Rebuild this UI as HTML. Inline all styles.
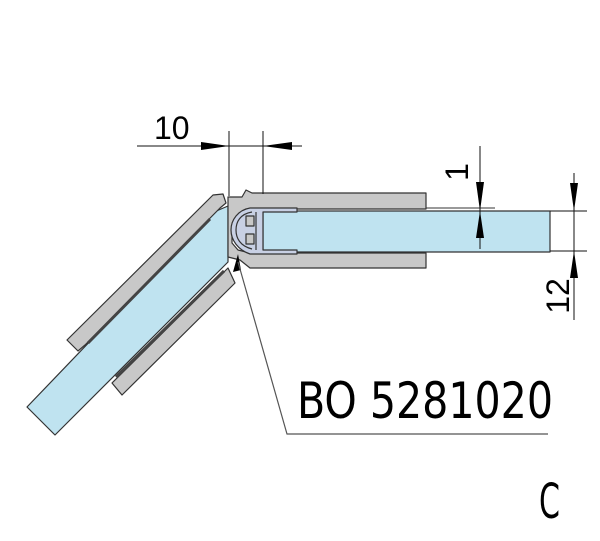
<!DOCTYPE html>
<html><head><style>html,body{margin:0;padding:0;background:#fff}svg{display:block}</style></head>
<body>
<svg width="600" height="541" viewBox="0 0 600 541" xmlns="http://www.w3.org/2000/svg">
<g stroke="#333" stroke-width="1.2" stroke-linejoin="round">
<!-- angled glass -->
<polygon points="27,407 55,435 228,262 228,206 214,212" fill="#bfe3f0"/>
<!-- upper angled clamp -->
<polygon points="67,340 78,351 85,345 220,208 226,203 223,194 213,195" fill="#c8c8c8"/>
<line x1="88" y1="343" x2="210" y2="219" stroke="#444" stroke-width="3"/>
<!-- lower angled clamp -->
<polygon points="112,383 122,395 235,283 228,268" fill="#c8c8c8"/>
<line x1="116" y1="377" x2="224" y2="271" stroke="#444" stroke-width="3"/>
<!-- hinge body -->
<polygon points="228,197 242,197 246,190 252,193 426,193 426,209 250,209 240,216 232,225 232,243 238,250 250,253 426,253 426,268 290,268 272,268 250,268 240,260 228,257" fill="#c8c8c8"/>
<!-- horizontal glass -->
<rect x="263" y="211" width="287" height="41" fill="#bfe3f0"/>
<line x1="426" y1="208" x2="495" y2="208" stroke-width="1"/>
<!-- seal -->
<path d="M266,208 L297,208 L297,212 L263,212 L263,250 L297,250 L297,254 L250,254 C238,250 231,240 231,230 C231,220 238,210 250,208 Z" fill="#c8d0e4"/>
<path d="M252,212 C240,214 236,222 236,230 C236,238 240,246 252,249" fill="none"/>
<rect x="246" y="216" width="8" height="10" fill="#c8c8c8"/>
<rect x="246" y="234" width="8" height="10" fill="#c8c8c8"/>
<line x1="256" y1="212" x2="256" y2="250"/>
</g>
<!-- leader arrow -->
<polygon points="238,254 233,272 241,270" fill="#000"/>
<polyline points="238,262 287,434 548,434" fill="none" stroke="#555" stroke-width="1.2"/>
<g stroke="#111" stroke-width="1" fill="#000">
<line x1="229" y1="131" x2="229" y2="196"/>
<line x1="263" y1="131" x2="263" y2="194"/>
<line x1="137" y1="146" x2="302" y2="146"/>
<polygon points="229,146 201,142 201,150" stroke="none"/>
<polygon points="263,146 292,142 292,150" stroke="none"/>
<line x1="480" y1="146" x2="480" y2="249"/>
<polygon points="480,211 476,182 484,182" stroke="none"/>
<polygon points="480,211 476,238 484,238" stroke="none"/>
<line x1="550" y1="211" x2="587" y2="211"/>
<line x1="550" y1="251" x2="587" y2="251"/>
<line x1="574" y1="173" x2="574" y2="320"/>
<polygon points="574,211 570,183 578,183" stroke="none"/>
<polygon points="574,251 570,278 578,278" stroke="none"/>
</g>
<g font-family="Liberation Sans, sans-serif" fill="#000">
<text x="154" y="139" font-size="32">10</text>
<text transform="translate(468,172) rotate(-90)" font-size="32" text-anchor="middle">1</text>
<text transform="translate(569,296) rotate(-90)" font-size="32" text-anchor="middle">12</text>
</g>
<g font-family="DejaVu Sans Condensed, DejaVu Sans, sans-serif" fill="#000">
<text x="297" y="418" font-size="50" textLength="256" lengthAdjust="spacingAndGlyphs">BO 5281020</text>
<text x="539" y="518" font-size="48" textLength="21" lengthAdjust="spacingAndGlyphs">C</text>
</g>
</svg>
</body></html>
